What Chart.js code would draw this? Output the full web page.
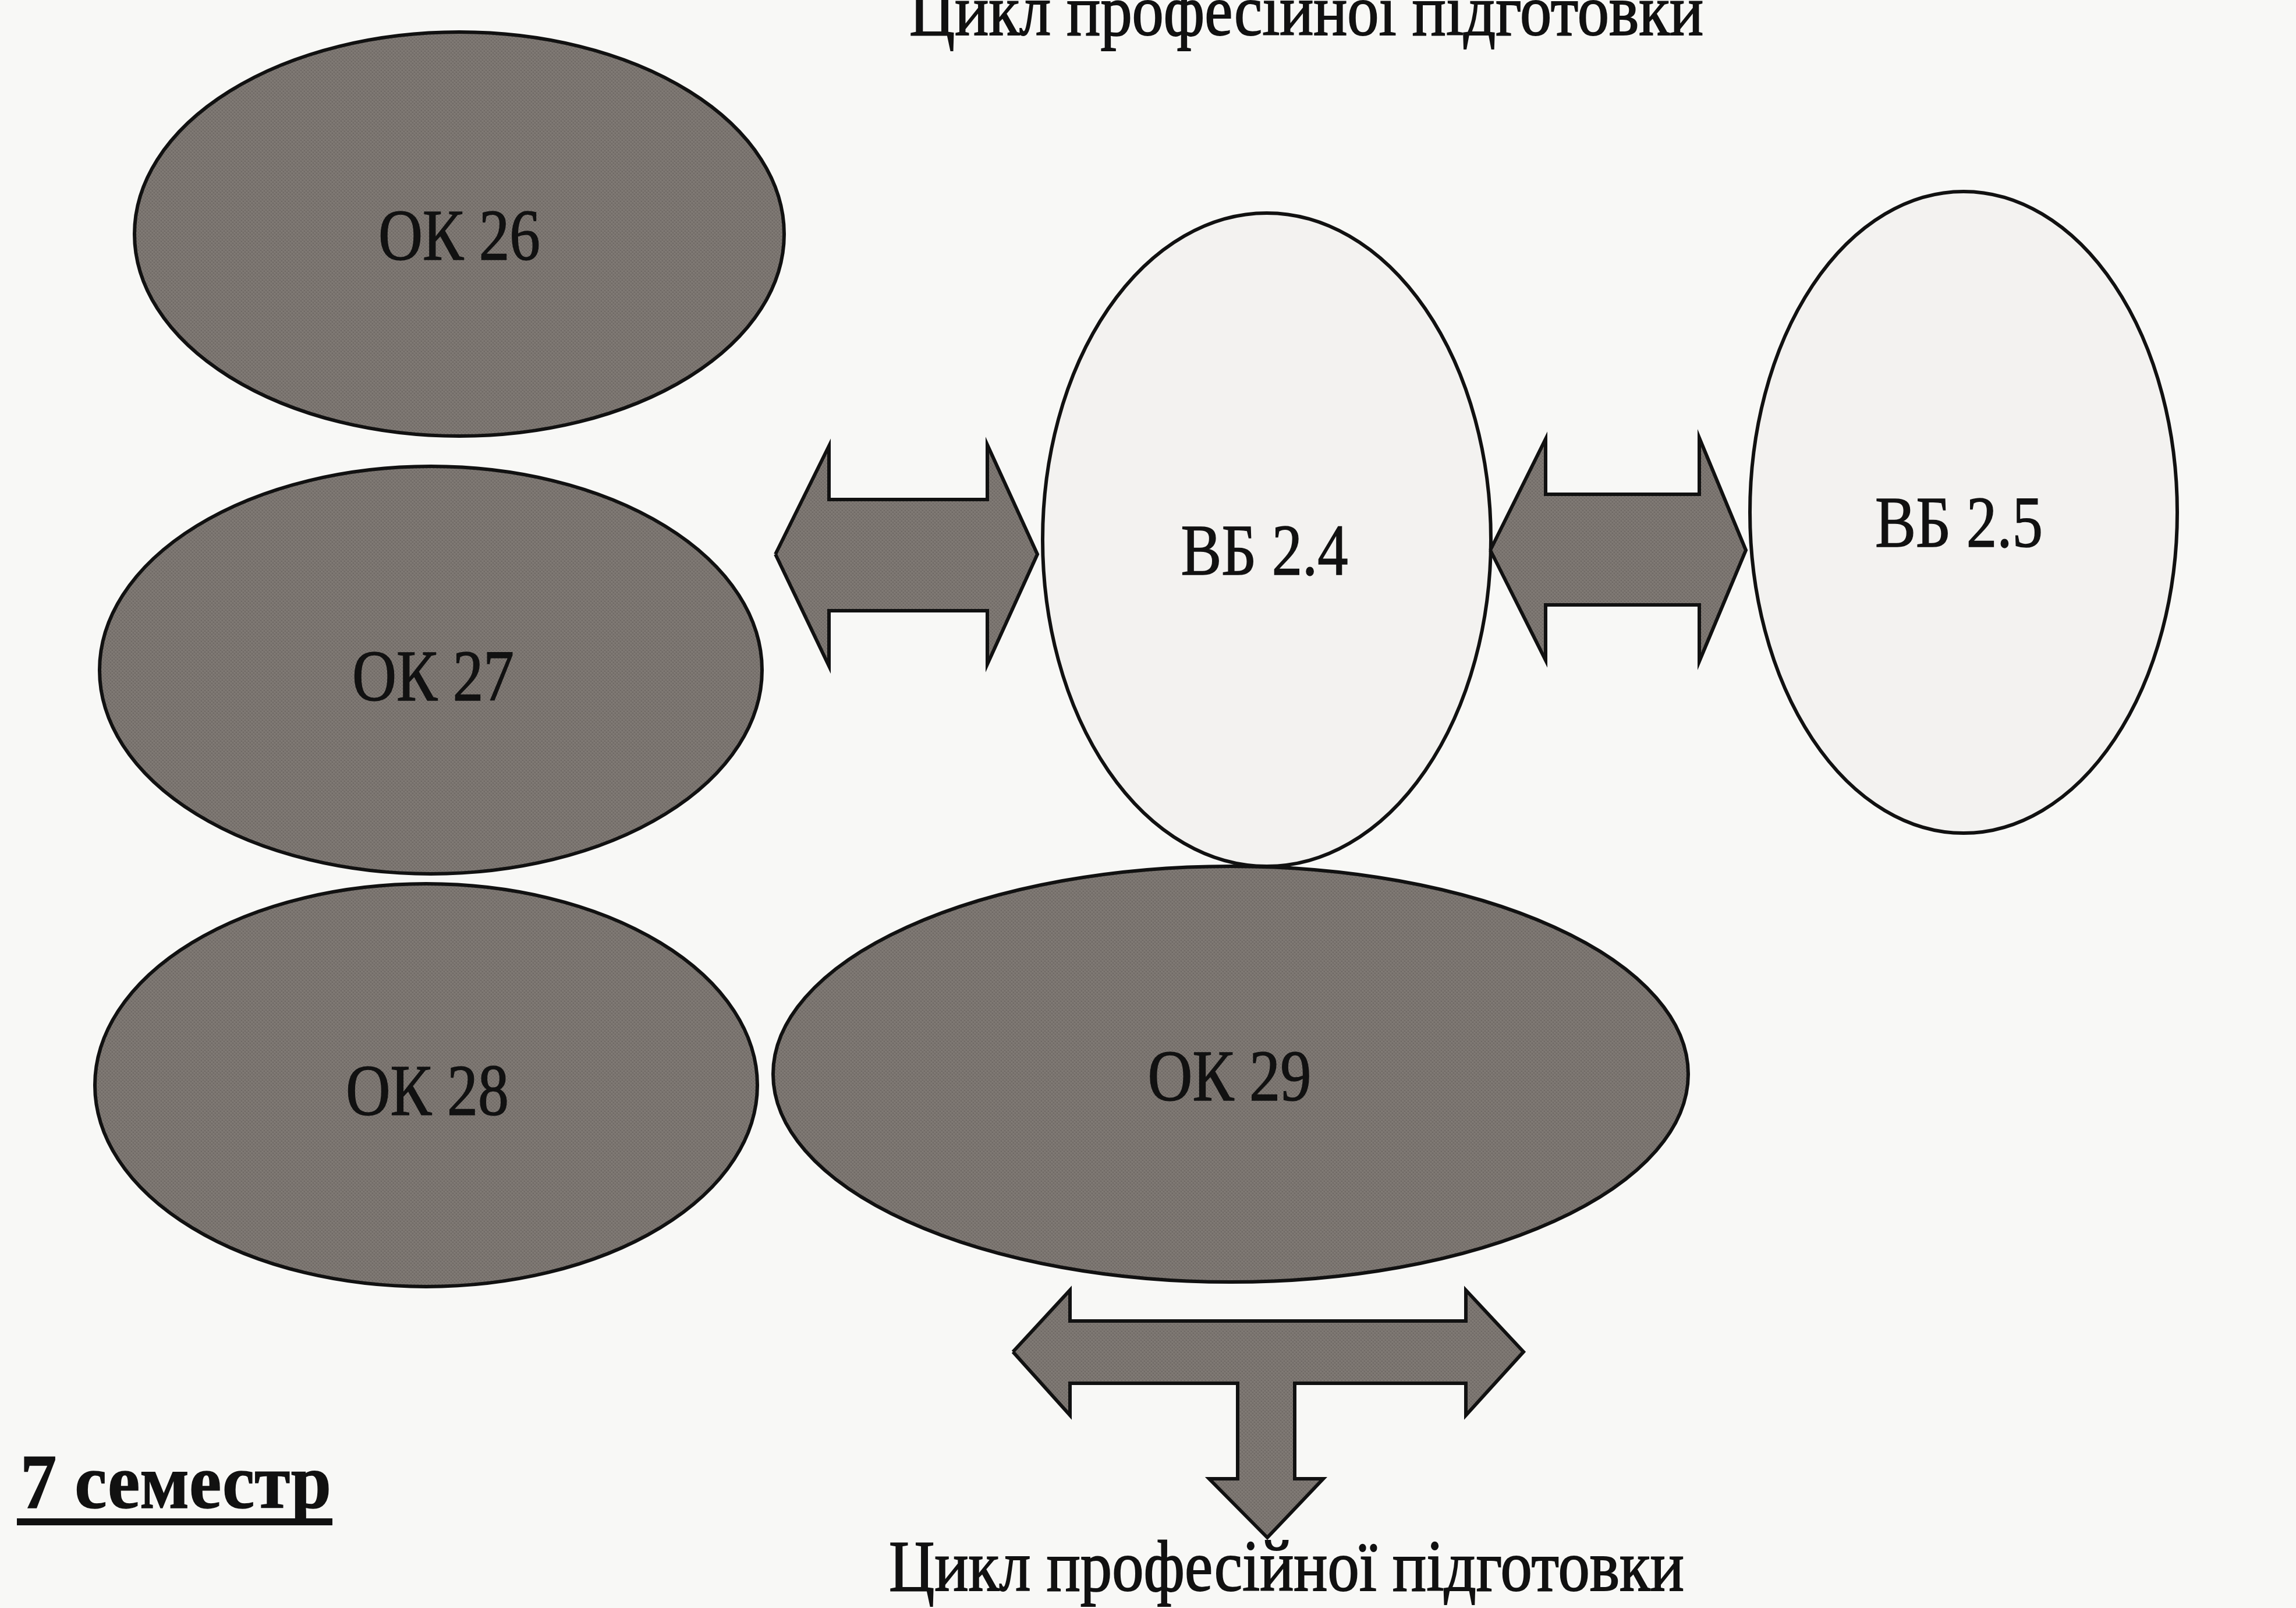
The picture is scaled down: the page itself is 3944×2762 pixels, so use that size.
<!DOCTYPE html>
<html>
<head>
<meta charset="utf-8">
<script src="https://cdn.jsdelivr.net/npm/chart.js@4.4.0/dist/chart.umd.min.js"></script>
<style>
  html, body { margin: 0; padding: 0; background: #f8f8f6; }
  #wrap { width: 3944px; height: 2762px; position: relative; }
</style>
</head>
<body>
<div id="wrap"><canvas id="scheme"></canvas></div>
<script>
// ---- diagram data (in picture units, 0..3944 x 0..2762) ----
var nodeNames = ['ОК 26', 'ОК 27', 'ОК 28', 'ОК 29', 'ВБ 2.4', 'ВБ 2.5'];
var nodeKind = ['core', 'core', 'core', 'core', 'elective', 'elective'];
var nodeX = [789, 740, 732, 2114, 2176, 3373];
var nodeY = [402, 1151, 1864, 1845, 927, 880];
var nodeRx = [558, 569, 569, 786, 385, 367];
var nodeRy = [347, 350, 346, 357, 561, 551];
var labelX = [789, 744, 734, 2112, 2172, 3365];
var labelY = [405, 1162, 1874, 1849, 946, 898];

// double arrow between ОК 27 and ВБ 2.4
var arrowLeft = [[1332, 952], [1424, 766], [1424, 858], [1696, 858], [1696, 764], [1782, 952],
  [1696, 1141], [1696, 1049], [1424, 1049], [1424, 1144], [1332, 952]];
// double arrow between ВБ 2.4 and ВБ 2.5
var arrowRight = [[2560, 945], [2655, 754], [2655, 849], [2919, 849], [2919, 752], [2999, 945],
  [2919, 1136], [2919, 1039], [2655, 1039], [2655, 1134], [2560, 945]];
// T-shaped arrow under ОК 29
var arrowTee = [[1740, 2322], [1838, 2216], [1838, 2269], [2518, 2269], [2518, 2216], [2617, 2322],
  [2518, 2431], [2518, 2376], [2224, 2376], [2224, 2540], [2273, 2540], [2177, 2641],
  [2077, 2540], [2126, 2540], [2126, 2376], [1838, 2376], [1838, 2431], [1740, 2322]];

var captions = ['Цикл професійної підготовки', 'Цикл професійної підготовки', '7 семестр'];

function toPoints(arr) {
  return arr.map(function (p) { return { x: p[0], y: p[1] }; });
}

// woven grey texture of the scanned print
function makeTexture() {
  var c = document.createElement('canvas');
  c.width = 6; c.height = 6;
  var g = c.getContext('2d');
  g.fillStyle = '#7c7671';
  g.fillRect(0, 0, 6, 6);
  g.fillStyle = '#6f6965';
  g.fillRect(0, 0, 2, 2); g.fillRect(3, 3, 2, 2);
  g.fillStyle = '#8a847f';
  g.fillRect(3, 0, 1, 1); g.fillRect(0, 3, 1, 1);
  return g.createPattern(c, 'repeat');
}
var darkFill = makeTexture();
var lightFill = '#f3f2f0';

function drawScaled(ctx, text, x, y, font, width, align, heavy) {
  ctx.save();
  ctx.font = font;
  var w = ctx.measureText(text).width;
  var s = width / w;
  ctx.translate(x, y);
  ctx.scale(s, 1);
  ctx.textAlign = align || 'center';
  ctx.textBaseline = 'alphabetic';
  ctx.fillText(text, 0, 0);
  if (heavy) {
    ctx.lineWidth = heavy;
    ctx.strokeStyle = ctx.fillStyle;
    ctx.strokeText(text, 0, 0);
  }
  ctx.restore();
}

var ellipsePlugin = {
  id: 'ellipses',
  beforeDatasetsDraw: function (chart) {
    var ctx = chart.ctx, xs = chart.scales.x, ys = chart.scales.y;
    for (var i = 0; i < nodeNames.length; i++) {
      var cx = xs.getPixelForValue(nodeX[i]);
      var cy = ys.getPixelForValue(nodeY[i]);
      var rx = Math.abs(xs.getPixelForValue(nodeX[i] + nodeRx[i]) - cx);
      var ry = Math.abs(ys.getPixelForValue(nodeY[i] + nodeRy[i]) - cy);
      ctx.save();
      ctx.beginPath();
      ctx.ellipse(cx, cy, rx, ry, 0, 0, Math.PI * 2);
      ctx.fillStyle = nodeKind[i] === 'core' ? darkFill : lightFill;
      ctx.fill();
      ctx.lineWidth = 6;
      ctx.strokeStyle = '#111';
      ctx.stroke();
      ctx.restore();
    }
  },
  afterDatasetsDraw: function (chart) {
    var ctx = chart.ctx, xs = chart.scales.x, ys = chart.scales.y;
    ctx.save();
    ctx.fillStyle = '#111';
    var labelWidths = [278, 278, 280, 281, 287, 288];
    for (var i = 0; i < nodeNames.length; i++) {
      // baseline sits half a cap height below the label centre
      drawScaled(ctx, nodeNames[i], xs.getPixelForValue(labelX[i]),
        ys.getPixelForValue(labelY[i] + 41), '124px "Liberation Serif"', labelWidths[i], 'center', 1.5);
    }
    // top caption, cut by the page edge
    drawScaled(ctx, captions[0], xs.getPixelForValue(2244), ys.getPixelForValue(60),
      '124px "Liberation Serif"', 1364, 'center', 2);
    // bottom caption
    drawScaled(ctx, captions[1], xs.getPixelForValue(2210), ys.getPixelForValue(2732),
      '124px "Liberation Serif"', 1366, 'center', 2);
    // semester heading, bold and underlined
    drawScaled(ctx, captions[2], xs.getPixelForValue(35), ys.getPixelForValue(2590),
      'bold 134px "Liberation Serif"', 534, 'left', 1.5);
    ctx.fillRect(xs.getPixelForValue(29), ys.getPixelForValue(2608), 542, 12);
    ctx.restore();
  }
};

function arrowSet(pts) {
  return {
    data: toPoints(pts),
    showLine: true,
    fill: 'shape',
    tension: 0,
    backgroundColor: darkFill,
    borderColor: '#111',
    borderWidth: 6,
    borderJoinStyle: 'miter',
    pointRadius: 0
  };
}

var chart = new Chart(document.getElementById('scheme').getContext('2d'), {
  type: 'scatter',
  data: {
    datasets: [arrowSet(arrowLeft), arrowSet(arrowRight), arrowSet(arrowTee)]
  },
  options: {
    responsive: true,
    maintainAspectRatio: false,
    animation: false,
    layout: { padding: 0 },
    plugins: { legend: { display: false }, tooltip: { enabled: false } },
    scales: {
      x: { type: 'linear', min: 0, max: 3944, display: false },
      y: { type: 'linear', min: 0, max: 2762, reverse: true, display: false }
    }
  },
  plugins: [ellipsePlugin]
});
</script>
</body>
</html>
